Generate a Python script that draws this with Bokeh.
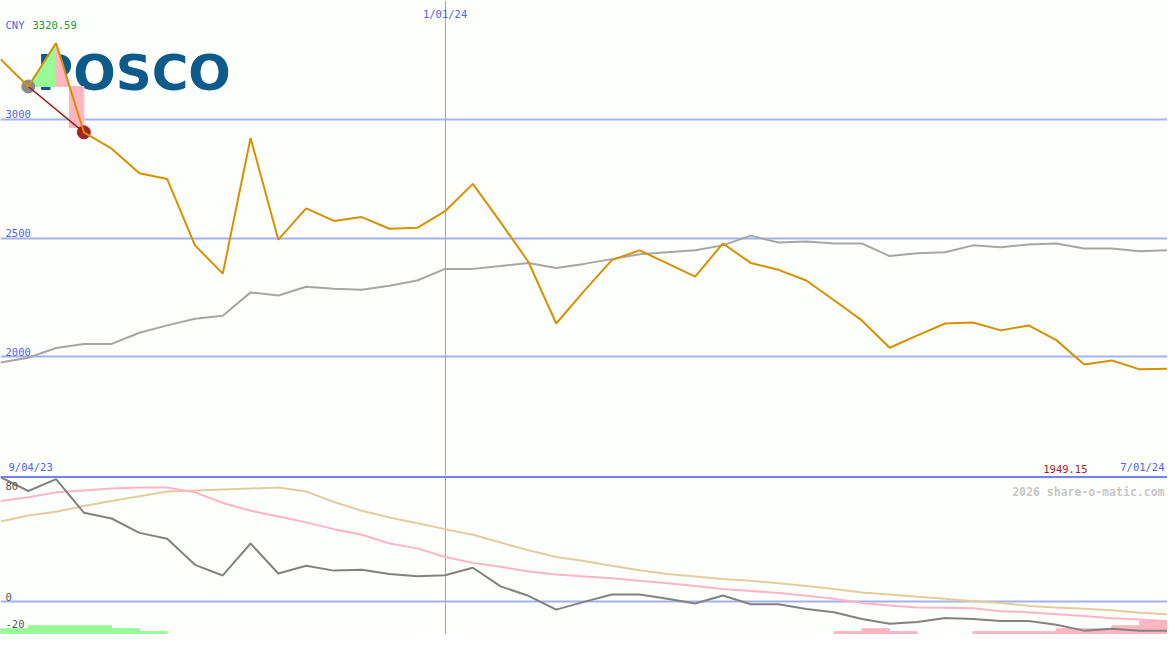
from bokeh.plotting import figure
from bokeh.models import Range1d, FixedTicker, Span, Grid
from bokeh.layouts import column
from bokeh.embed import file_html
from bokeh.resources import INLINE
from bokeh.core.properties import value

# ---------------- data ----------------
weeks = list(range(43))
price = [3253, 3138, 3320.59, 2945, 2876, 2773, 2748, 2469, 2350, 2921,
         2493, 2625, 2572, 2588, 2539, 2543, 2613, 2728, 2566, 2399,
         2140, 2276, 2407, 2448, 2393, 2337, 2477, 2395, 2366, 2321,
         2238, 2153, 2038, 2090, 2140, 2144, 2111, 2132, 2070, 1967,
         1984, 1947, 1949.15]
avg = [1976, 1996, 2037, 2054, 2054, 2101, 2132, 2160, 2173, 2271,
       2258, 2295, 2286, 2282, 2299, 2321, 2370, 2370, 2382, 2395,
       2374, 2391, 2411, 2432, 2440, 2448, 2469, 2510, 2481, 2485,
       2477, 2477, 2424, 2436, 2440, 2469, 2461, 2473, 2477, 2456,
       2456, 2444, 2448]
osc = [90, 80, 88.6, 64.3, 60.1, 49.7, 45.5, 26.6, 18.9, 42,
       20.3, 25.9, 22.4, 23.1, 20, 18.4, 19.1, 24.5, 11, 4.2,
       -5.8, -0.2, 5.1, 5.1, 2.1, -1.4, 4.4, -1.9, -1.9, -5.4,
       -7.7, -12.6, -16.1, -14.7, -11.9, -12.6, -14, -14, -16.8, -21,
       -19.6, -21, -21]
sig = [72.7, 75.5, 79.0, 80.4, 81.8, 82.5, 82.5, 79.0, 71.3, 65.7,
       61.5, 57.3, 52.4, 48.3, 42.0, 38.5, 32.2, 28.0, 25.2, 21.7,
       19.6, 18.2, 16.8, 15.0, 13.3, 11.2, 9.1, 7.7, 6.3, 4.2,
       2.1, -1.0, -2.8, -4.2, -4.4, -4.9, -7.0, -7.7, -9.1, -10.5,
       -12.1, -12.9, -14.0]
slow = [58.0, 62.2, 65.0, 69.2, 72.7, 76.2, 79.7, 80.4, 81.1, 81.8,
        82.5, 79.7, 72.0, 65.7, 60.8, 56.6, 52.4, 48.3, 42.7, 37.1,
        32.2, 29.4, 25.9, 22.7, 19.9, 18.2, 16.4, 15.0, 13.3, 11.2,
        9.1, 6.6, 5.2, 3.5, 2.1, 0.2, -1.0, -3.1, -4.2, -5.1,
        -6.3, -8.0, -9.1]
hist = [4.2, 6.3, 6.3, 6.3, 4.2, 2.1, 0, 0, 0, 0,
        0, 0, 0, 0, 0, 0, 0, 0, 0, 0,
        0, 0, 0, 0, 0, 0, 0, 0, 0, 0,
        -2.1, -4.2, -2.1, 0, 0, -2.1, -2.1, -2.1, -4.2, -4.2,
        -6.3, -9.8]
price_ticks = [2000, 2500, 3000]
osc_labels = [80, 0, -20]
osc_grid = [0]
date_labels = ["9/04/23", "1/01/24", "7/01/24"]
date_index = [0, 16, 42]
currency = "CNY"
company = "POSCO"
credit = "2026 share-o-matic.com"

# ---------------- style ----------------
W, H1, H2 = 1167, 475, 159
BG = "#fcfffc"
GRID = "#a4b2f4"
BLUE_TXT = "#4f5ff0"
MONO = value("DejaVu Sans Mono")
P_LO, P_HI = 1500, 3500
O_LO, O_HI = -23.8, 91.2


def base(h, ylo, yhi):
    p = figure(width=W, height=h, x_range=Range1d(weeks[0], weeks[-1]),
               y_range=Range1d(ylo, yhi), output_backend="svg",
               toolbar_location=None, x_axis_location=None, y_axis_location=None,
               min_border=0, background_fill_color=BG, border_fill_color=BG,
               outline_line_color=None)
    p.grid.visible = False
    return p


# ---------------- top panel ----------------
p1 = base(H1, P_LO, P_HI)
p1.add_layout(Grid(dimension=1, ticker=FixedTicker(ticks=price_ticks),
                   grid_line_color=GRID, grid_line_width=2))
p1.add_layout(Grid(dimension=0, ticker=FixedTicker(ticks=[date_index[1]]),
                   grid_line_color="#8fa0f8", grid_line_width=1))

# logo
p1.text(x=[weeks[0]], y=[P_HI], text=[company], text_font=value("DejaVu Sans"),
        text_font_style="bold", text_font_size="50px", text_color="#0e5a8a",
        text_baseline="alphabetic", x_offset=36, y_offset=72)

# recent swing decoration
p0, pk, p3 = price[1], price[2], price[3]
xc = weeks[2] + (pk - p0) / (pk - p3)
p1.patch(x=[weeks[1], weeks[2], weeks[2]], y=[p0, pk, p0], color="palegreen")
p1.patch(x=[weeks[2], weeks[2], xc], y=[pk, p0, p0], color="lightpink")
p1.quad(left=[xc], right=[weeks[3]], top=[p0], bottom=[p3 + 20], color="lightpink")
p1.scatter(x=[weeks[1]], y=[p0], size=13, color="#8a8a8a")
p1.scatter(x=[weeks[3]], y=[p3], size=13, color="#a52222")
p1.line(x=[weeks[1], weeks[3]], y=[p0, p3], color="#a01818", line_width=1.5)

p1.line(weeks, avg, color="#a6a6a6", line_width=2)
p1.line(weeks, price, color="#d89000", line_width=2)

# labels
p1.text(x=[weeks[0]] * 3, y=price_ticks, text=[str(t) for t in price_ticks],
        text_font=MONO, text_font_size="10.5px", text_color=BLUE_TXT,
        text_baseline="bottom", x_offset=5, y_offset=-1)
p1.text(x=[weeks[0]], y=[P_HI], text=[currency], text_font=MONO,
        text_font_size="10.5px", text_color=BLUE_TXT, text_baseline="alphabetic",
        x_offset=5, y_offset=24)
p1.text(x=[weeks[0]], y=[P_HI], text=[f"{max(price):.2f}"], text_font=MONO,
        text_font_size="10.5px", text_color="#1f9a1f", text_baseline="alphabetic",
        x_offset=32, y_offset=24)
p1.text(x=[date_index[1]], y=[P_HI], text=[date_labels[1]], text_font=MONO,
        text_font_size="10.5px", text_color=BLUE_TXT, text_baseline="alphabetic",
        text_align="center", y_offset=13)
p1.text(x=[date_index[0]], y=[P_LO], text=[date_labels[0]], text_font=MONO,
        text_font_size="10.5px", text_color=BLUE_TXT, text_baseline="bottom",
        x_offset=8, y_offset=-3)
p1.text(x=[date_index[2]], y=[P_LO], text=[date_labels[2]], text_font=MONO,
        text_font_size="10.5px", text_color=BLUE_TXT, text_baseline="bottom",
        text_align="right", x_offset=-3, y_offset=-3)
p1.text(x=[date_index[2]], y=[P_LO], text=[f"{price[-1]:.2f}"], text_font=MONO,
        text_font_size="10.5px", text_color="#a52222", text_baseline="bottom",
        text_align="right", x_offset=-80, y_offset=-3)

# ---------------- bottom panel ----------------
p2 = base(H2, O_LO, O_HI)
p2.add_layout(Grid(dimension=1, ticker=FixedTicker(ticks=osc_grid),
                   grid_line_color=GRID, grid_line_width=2))
p2.add_layout(Grid(dimension=0, ticker=FixedTicker(ticks=[date_index[1]]),
                   grid_line_color="#8fa0f8", grid_line_width=1))
p2.add_layout(Span(location=O_HI - 1.0, dimension="width", line_color="#7383ea",
                   line_width=2))

pos = [i for i, h in enumerate(hist) if h > 0]
neg = [i for i, h in enumerate(hist) if h < 0]
p2.quad(left=[weeks[i] for i in pos], right=[weeks[i + 1] for i in pos],
        bottom=O_LO, top=[O_LO + hist[i] for i in pos], color="palegreen")
p2.quad(left=[weeks[i] for i in neg], right=[weeks[i + 1] for i in neg],
        bottom=O_LO, top=[O_LO - hist[i] for i in neg], color="lightpink")

p2.line(weeks, slow, color="#e3cd9e", line_width=2)
p2.line(weeks, sig, color="#ffb4c6", line_width=2)
p2.line(weeks, osc, color="#828282", line_width=2)

p2.text(x=[weeks[0]] * 3, y=osc_labels, text=[str(t) for t in osc_labels],
        text_font=MONO, text_font_size="10.5px", text_color="#555555",
        text_baseline="bottom", x_offset=5, y_offset=-1)
p2.text(x=[weeks[-1]], y=[O_HI], text=[credit], text_font=MONO,
        text_font_size="11.5px", text_font_style="bold", text_color="#c8c8c8",
        text_align="right", text_baseline="alphabetic", x_offset=-3, y_offset=16)

layout = column(p1, p2, spacing=0)
open("out.html", "w").write(file_html(layout, INLINE))
